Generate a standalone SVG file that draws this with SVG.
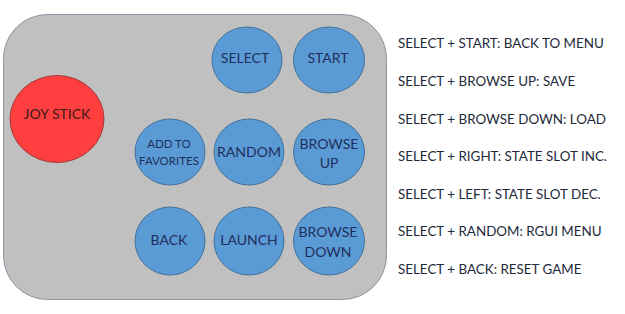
<svg xmlns="http://www.w3.org/2000/svg" width="625" height="314" viewBox="0 0 625 314">
<style>
.btn{fill:#5b9bd5;stroke:#41719c;stroke-width:1}
.lbl{font-family:Lato,"Open Sans","Liberation Sans",sans-serif;font-size:14px;fill:#1f2f5c;text-anchor:middle}
.sm{font-size:11.5px}
.leg{font-family:Lato,"Open Sans","Liberation Sans",sans-serif;font-size:13.4px;fill:#1e2a3a}
</style>
<rect x="0" y="0" width="625" height="314" fill="#ffffff"/>
<g id="panel"><rect x="3.5" y="14.5" width="383" height="285" rx="44" ry="44" fill="#c0c0c0" stroke="#8896a6" stroke-width="1"/></g>
<g id="joystick"><ellipse cx="57" cy="119" rx="47" ry="43.5" fill="#ff3f3f" stroke="#a33a3a" stroke-width="1"/><text class="lbl" x="57" y="119" style="fill:#3a1a1a">JOY STICK</text></g>
<g id="select"><ellipse class="btn" cx="247" cy="60" rx="35" ry="33"/><text class="lbl" x="245" y="63">SELECT</text></g>
<g id="start"><ellipse class="btn" cx="329" cy="60" rx="35.5" ry="33"/><text class="lbl" x="328" y="63">START</text></g>
<g id="favorites"><ellipse class="btn" cx="170" cy="152" rx="35" ry="33"/><text class="lbl sm" x="169" y="147.5">ADD TO</text><text class="lbl sm" x="169" y="165">FAVORITES</text></g>
<g id="random"><ellipse class="btn" cx="249" cy="152" rx="35" ry="33"/><text class="lbl" x="249" y="157">RANDOM</text></g>
<g id="browseup"><ellipse class="btn" cx="329" cy="152" rx="35.5" ry="33"/><text class="lbl" x="329" y="149">BROWSE</text><text class="lbl" x="329" y="168">UP</text></g>
<g id="back"><ellipse class="btn" cx="170" cy="241" rx="35" ry="34"/><text class="lbl" x="169" y="245">BACK</text></g>
<g id="launch"><ellipse class="btn" cx="249" cy="241" rx="35" ry="34"/><text class="lbl" x="249" y="245">LAUNCH</text></g>
<g id="browsedown"><ellipse class="btn" cx="329" cy="241" rx="35.5" ry="34"/><text class="lbl" x="328" y="237">BROWSE</text><text class="lbl" x="328" y="257">DOWN</text></g>
<g id="legend">
<text class="leg" x="398" y="48">SELECT + START: BACK TO MENU</text>
<text class="leg" x="398" y="86">SELECT + BROWSE UP: SAVE</text>
<text class="leg" x="398" y="124">SELECT + BROWSE DOWN: LOAD</text>
<text class="leg" x="398" y="161">SELECT + RIGHT: STATE SLOT INC.</text>
<text class="leg" x="398" y="199">SELECT + LEFT: STATE SLOT DEC.</text>
<text class="leg" x="398" y="236">SELECT + RANDOM: RGUI MENU</text>
<text class="leg" x="398" y="274">SELECT + BACK: RESET GAME</text>
</g>
</svg>
